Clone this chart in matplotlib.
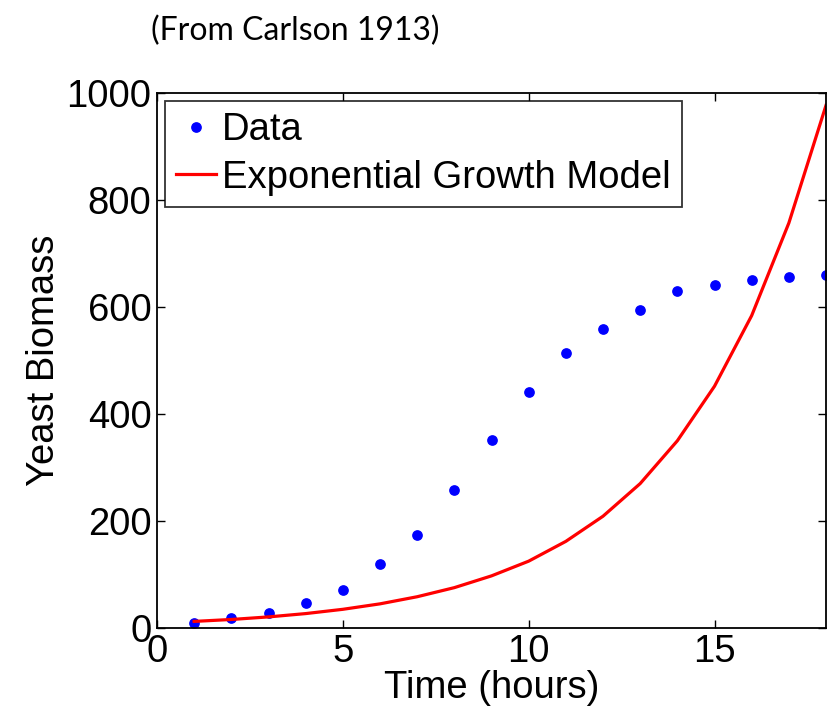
import matplotlib
matplotlib.use('Agg')
import matplotlib.pyplot as plt

# Carlson (1913) yeast biomass measurements, hourly
hours = [1, 2, 3, 4, 5, 6, 7, 8, 9, 10, 11, 12, 13, 14, 15, 16, 17, 18]
biomass = [9.6, 18.3, 29.0, 47.2, 71.1, 119.1, 174.6, 257.3, 350.7,
           441.0, 513.3, 559.7, 594.8, 629.4, 640.8, 651.1, 655.9, 659.6]

# exponential growth model evaluated at the same hours
model = [12.4, 16.0, 20.8, 27.0, 35.0, 45.2, 58.5, 75.5, 97.5,
         125.0, 162.0, 209.0, 270.0, 350.0, 452.0, 584.0, 757.0, 977.0]

plt.rcParams['font.family'] = ['Liberation Sans', 'DejaVu Sans']

fig = plt.figure(figsize=(8.32, 7.14), dpi=100)
ax = fig.add_axes([0.1887, 0.1204, 0.8041, 0.7493])

ax.plot(hours, biomass, 'o', color='#0000ff', markersize=6.7, label='Data')
ax.plot(hours, model, '-', color='#ff0000', linewidth=2.3, label='Exponential Growth Model')

ax.set_xlim(0, 18)
ax.set_ylim(0, 1000)
ax.set_xticks([0, 5, 10, 15])
ax.set_yticks([0, 200, 400, 600, 800, 1000])

fs = 27.5
ax.tick_params(direction='in', top=True, right=True, length=6, width=1,
               labelsize=fs, pad=4)
for sp in ax.spines.values():
    sp.set_linewidth(1.3)

ax.set_xlabel('Time (hours)', fontsize=fs, labelpad=0)
ax.set_ylabel('Yeast Biomass', fontsize=fs, labelpad=3)

leg = ax.legend(loc='upper left', fontsize=fs, frameon=True, fancybox=False,
                handlelength=1.05, handletextpad=0.15, borderaxespad=0.2,
                labelspacing=0.3, borderpad=0.3, numpoints=1)
leg.get_frame().set_edgecolor('black')
leg.get_frame().set_linewidth(1.3)

fig.text(0.181, 0.957, '(From Carlson 1913)', fontsize=23, family='Lato',
         ha='left', va='center', color='black')

fig.savefig('out.png', dpi=100)
